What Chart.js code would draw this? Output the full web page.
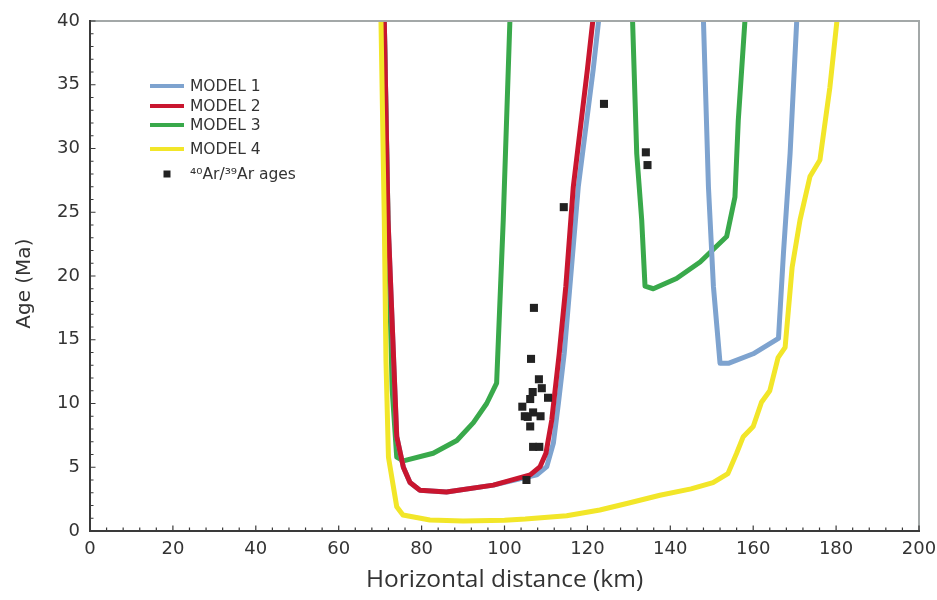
<!DOCTYPE html>
<html>
<head>
<meta charset="utf-8">
<script src="https://cdn.jsdelivr.net/npm/chart.js@4.4.1/dist/chart.umd.min.js"></script>
<style>
  html, body { margin: 0; background: #fff; }
  #wrap { width: 937px; height: 600px; }
</style>
</head>
<body>
<div id="wrap"><canvas id="chart"></canvas></div>
<script>
// [distance km, age Ma]; null = curve leaves the top of the plot and comes back
const model1 = [
  [71.0, 40], [71.9, 24.4], [74.0, 7.4], [75.6, 5.0], [77.2, 3.8], [79.6, 3.2], [86, 3.06],
  [97.3, 3.6], [107.8, 4.4], [110.2, 5.05], [111.8, 6.9], [113.0, 10.0], [114.4, 13.9],
  [117.8, 27.0], [121.4, 36.2], [122.7, 40],
  null,
  [148.0, 40], [149.2, 27.0], [150.4, 19.2], [152.0, 13.15], [154.0, 13.15], [160.0, 13.9],
  [166.1, 15.1], [167.3, 21.8], [168.9, 29.6], [170.5, 40]
];
const model2 = [
  [71.0, 40], [71.9, 24.4], [74.0, 7.4], [75.6, 5.0], [77.2, 3.8], [79.6, 3.2], [86, 3.06],
  [97.3, 3.6], [106.2, 4.4], [108.6, 5.05], [110.0, 6.1], [111.4, 8.7], [113.2, 13.9],
  [114.8, 19.2], [116.6, 27.0], [120.0, 36.2], [121.3, 40]
];
const model3 = [
  [71.0, 40], [71.9, 24.4], [72.9, 11.1], [74.0, 5.8], [75.6, 5.5], [82.8, 6.1], [88.5, 7.1],
  [92.5, 8.5], [95.7, 10.0], [98.1, 11.6], [99.7, 24.4], [101.3, 40],
  null,
  [130.9, 40], [131.9, 29.6], [133.1, 24.4], [133.9, 19.2], [135.9, 19.0], [141.5, 19.8],
  [147.2, 21.1], [153.6, 23.1], [155.6, 26.2], [156.4, 32.2], [158.0, 40]
];
const model4 = [
  [70.2, 40], [71.0, 24.4], [71.4, 13.4], [72.0, 5.8], [74.0, 1.9], [75.5, 1.25], [82, 0.86],
  [90, 0.78], [100, 0.85], [105, 0.94], [115, 1.2], [123, 1.65], [130, 2.2], [137.5, 2.8],
  [145, 3.3], [150.3, 3.8], [153.9, 4.5], [156, 6.1], [157.6, 7.4], [160, 8.2], [162, 10.1],
  [164, 11.0], [166, 13.6], [167.7, 14.4], [169.4, 20.7], [171.3, 24.4], [173.7, 27.8],
  [176.1, 29.1], [178.5, 34.8], [180.2, 40]
];
// 40Ar/39Ar sample ages
const arAges = [
  [124.0, 33.5], [134.1, 29.7], [134.5, 28.7], [114.3, 25.4], [107.1, 17.5], [106.4, 13.5],
  [108.3, 11.9], [109.0, 11.2], [106.8, 10.9], [110.5, 10.45], [106.2, 10.35], [104.3, 9.75],
  [106.9, 9.3], [104.9, 9.0], [105.6, 8.95], [108.7, 9.0], [106.2, 8.2], [106.9, 6.6],
  [108.4, 6.6], [105.3, 4.0]
];

const seriesNames = ['MODEL 1', 'MODEL 2', 'MODEL 3', 'MODEL 4', '⁴⁰Ar/³⁹Ar ages'];
const seriesColors = ['#7ea3cf', '#c9162f', '#39a94b', '#f2e629', '#222222'];
const xTicks = [0, 20, 40, 60, 80, 100, 120, 140, 160, 180, 200];
const yTicks = [0, 5, 10, 15, 20, 25, 30, 35, 40];
const yTitle = 'Age (Ma)';

function toPoints(pairs) {
  let lastX = 0;
  return pairs.map(p => {
    if (p === null) return { x: lastX, y: null };
    lastX = p[0];
    return { x: p[0], y: p[1] };
  });
}

const curve = (i, data, order) => ({
  label: seriesNames[i],
  data: toPoints(data),
  borderColor: seriesColors[i],
  backgroundColor: seriesColors[i],
  borderWidth: 5,
  borderJoinStyle: 'round',
  pointRadius: 0,
  tension: 0,
  spanGaps: false,
  order: order
});

// legend drawn inside the plot, top left
const insideLegend = {
  id: 'insideLegend',
  afterDraw(chart) {
    const ctx = chart.ctx;
    const rows = [86, 106, 125, 149, 174];
    ctx.save();
    ctx.font = '15.5px "DejaVu Sans"';
    ctx.textBaseline = 'middle';
    chart.data.datasets.forEach((ds, i) => {
      const y = rows[i];
      if (i < 4) {
        ctx.strokeStyle = ds.borderColor;
        ctx.lineWidth = 4;
        ctx.beginPath();
        ctx.moveTo(150, y);
        ctx.lineTo(184, y);
        ctx.stroke();
      } else {
        ctx.fillStyle = ds.backgroundColor;
        ctx.fillRect(163.5, y - 3.5, 7, 7);
      }
      ctx.fillStyle = '#333';
      ctx.fillText(ds.label, 190, y + 1);
    });
    ctx.restore();
  }
};

// box around the plot with inward ticks, plus the rotated y title
const frame = {
  id: 'frame',
  afterDraw(chart) {
    const { ctx, chartArea: a } = chart;
    const xs = chart.scales.x, ys = chart.scales.y;
    ctx.save();
    ctx.lineWidth = 2;
    ctx.strokeStyle = '#a3a8a8';
    ctx.beginPath();
    ctx.moveTo(a.left, a.top); ctx.lineTo(a.right, a.top); ctx.lineTo(a.right, a.bottom);
    ctx.stroke();
    ctx.strokeStyle = '#3a3a3a';
    ctx.lineWidth = 1.2;
    ctx.beginPath();
    for (let v = 0; v <= 200; v += 4) {
      const px = xs.getPixelForValue(v);
      const len = v % 20 === 0 ? 5.5 : 3.5;
      ctx.moveTo(px, a.bottom); ctx.lineTo(px, a.bottom - len);
    }
    for (let v = 0; v <= 40; v += 1) {
      const py = ys.getPixelForValue(v);
      const len = v % 5 === 0 ? 5.5 : 3.5;
      ctx.moveTo(a.left, py); ctx.lineTo(a.left + len, py);
    }
    ctx.stroke();
    ctx.lineWidth = 2;
    ctx.beginPath();
    ctx.moveTo(a.left, a.top - 1); ctx.lineTo(a.left, a.bottom); ctx.lineTo(a.right + 1, a.bottom);
    ctx.stroke();

    ctx.translate(25, ys.getPixelForValue(19.4));
    ctx.rotate(-Math.PI / 2);
    ctx.font = '20px "DejaVu Sans"';
    ctx.fillStyle = '#333';
    ctx.textAlign = 'center';
    ctx.textBaseline = 'middle';
    ctx.fillText(yTitle, 0, 0);
    ctx.restore();
  }
};

new Chart(document.getElementById('chart'), {
  type: 'line',
  data: {
    datasets: [
      curve(0, model1, 3),
      curve(1, model2, 2),
      curve(2, model3, 4),
      curve(3, model4, 1),
      {
        label: seriesNames[4],
        data: toPoints(arAges),
        showLine: false,
        pointStyle: 'rect',
        pointRadius: 5.7,
        pointBorderWidth: 0,
        backgroundColor: seriesColors[4],
        borderColor: seriesColors[4],
        order: 0
      }
    ]
  },
  options: {
    responsive: true,
    maintainAspectRatio: false,
    animation: false,
    layout: { padding: { top: 21, right: 18, left: 0, bottom: 0 } },
    plugins: {
      legend: { display: false },
      tooltip: { enabled: false }
    },
    scales: {
      x: {
        type: 'linear',
        min: 0, max: 200,
        afterBuildTicks: s => { s.ticks = xTicks.map(v => ({ value: v })); },
        afterFit: s => { s.height = 69; s.paddingLeft = 0; s.paddingRight = 0; },
        grid: { display: false, drawTicks: false },
        border: { display: false },
        ticks: { padding: 8, color: '#333', font: { family: 'DejaVu Sans', size: 18 } },
        title: {
          display: true, text: 'Horizontal distance (km)', color: '#333',
          font: { family: 'Open Sans', size: 24.5 }, padding: { top: 0, bottom: 5 }
        }
      },
      y: {
        type: 'linear',
        min: 0, max: 40,
        afterBuildTicks: s => { s.ticks = yTicks.map(v => ({ value: v })); },
        afterFit: s => { s.width = 90; s.paddingTop = 0; s.paddingBottom = 0; },
        grid: { display: false, drawTicks: false },
        border: { display: false },
        ticks: { padding: 10, color: '#333', font: { family: 'DejaVu Sans', size: 18 } }
      }
    }
  },
  plugins: [insideLegend, frame]
});
</script>
</body>
</html>
